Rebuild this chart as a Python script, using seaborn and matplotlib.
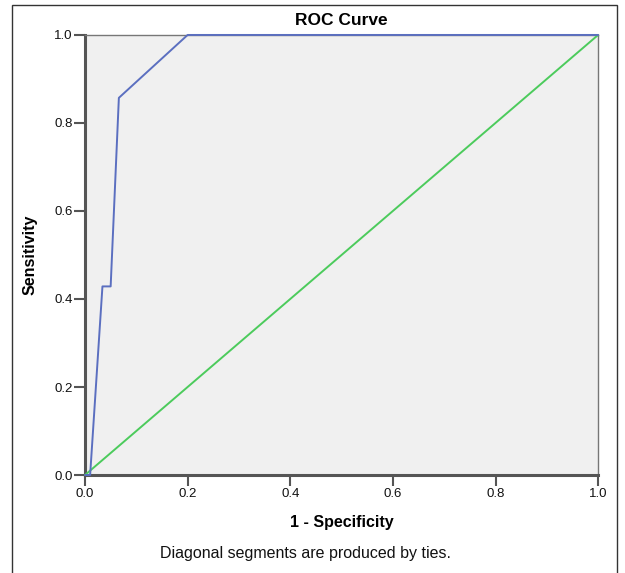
import numpy as np
import pandas as pd
import matplotlib
matplotlib.use("Agg")
import matplotlib.pyplot as plt
import seaborn as sns

sns.set_style("white")
plt.rcParams['font.family'] = ['Liberation Sans', 'DejaVu Sans']

# roc points
fpr = [0.0, 0.01, 0.034, 0.05, 0.066, 0.2, 1.0]
tpr = [0.0, 0.0, 0.4286, 0.4286, 0.8571, 1.0, 1.0]
ref = [0.0, 1.0]
ticks = [0.0, 0.2, 0.4, 0.6, 0.8, 1.0]

roc = pd.DataFrame({"fpr": fpr, "tpr": tpr})
diag = pd.DataFrame({"x": ref, "y": ref})

fig = plt.figure(figsize=(6.25, 5.73), dpi=100)
ax = fig.add_axes([0.136, 0.171, 0.821, 0.768])
ax.set_facecolor("#f0f0f0")

sns.lineplot(data=diag, x="x", y="y", sort=False, estimator=None,
             color="#4ccb5c", linewidth=1.4, ax=ax, clip_on=False, zorder=3)
sns.lineplot(data=roc, x="fpr", y="tpr", sort=False, estimator=None,
             color="#5b6fc0", linewidth=1.4, ax=ax, clip_on=False, zorder=4)

ax.set_xlim(0, 1)
ax.set_ylim(0, 1)
ax.set_xticks(ticks)
ax.set_yticks(ticks)
ax.set_xticklabels([f"{t:.1f}" for t in ticks], fontsize=9.5)
ax.set_yticklabels([f"{t:.1f}" for t in ticks], fontsize=9.5)
ax.tick_params(left=True, bottom=True, direction="out", length=8, width=1.5,
               color="#555555", labelcolor="#111111", pad=1)

for s in ["left", "bottom"]:
    ax.spines[s].set_color("#555555")
    ax.spines[s].set_linewidth(2.2)
for s in ["top", "right"]:
    ax.spines[s].set_color("#777777")
    ax.spines[s].set_linewidth(1.0)

ax.set_xlabel("1 - Specificity", fontsize=11.5, fontweight="bold", labelpad=11, color="black")
ax.set_ylabel("Sensitivity", fontsize=11.5, fontweight="bold", labelpad=12, color="black")
ax.set_title("ROC Curve", fontsize=12.5, fontweight="bold", pad=7, color="black")

fig.text(0.488, 0.034, "Diagonal segments are produced by ties.", ha="center",
         va="center", fontsize=11.5, color="#111111")

# outer frame like the original output box
frame = plt.Rectangle((0.019, -0.01), 0.968, 1.001, transform=fig.transFigure,
                      fill=False, edgecolor="#333333", linewidth=1.0)
fig.patches.append(frame)

fig.savefig("out.png", dpi=100)
